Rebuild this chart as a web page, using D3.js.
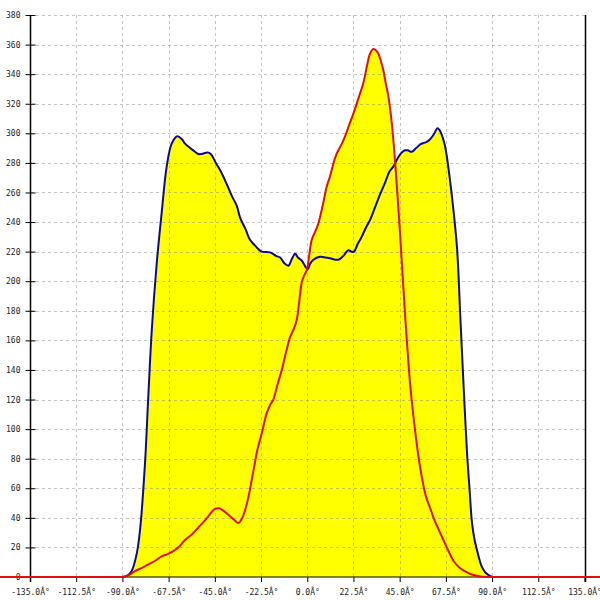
<!DOCTYPE html>
<html>
<head>
<meta charset="utf-8">
<script src="https://cdn.jsdelivr.net/npm/d3@7"></script>
<style>
  html, body { margin: 0; padding: 0; background: #fff; }
  svg { display: block; }
  text { font-family: "DejaVu Sans Mono", monospace; font-size: 8px; fill: #222; }
</style>
</head>
<body>
<svg id="chart" width="600" height="600"></svg>
<script>
// ---- data ----
const xTicks = [-135, -112.5, -90, -67.5, -45, -22.5, 0, 22.5, 45, 67.5, 90, 112.5, 135];
const yTicks = [0, 20, 40, 60, 80, 100, 120, 140, 160, 180, 200, 220, 240, 260, 280, 300, 320, 340, 360, 380];

const blueAngles = [-90, -87.5, -85.5, -83, -81.4, -79, -77.4, -75.7, -73.3, -70.9, -68.4, -66, -63.3, -61, -59.5, -56, -53, -51.4, -48.5, -47, -44.5, -42, -39, -36.5, -34.3, -32.7, -30, -27.9, -26, -24, -22.2, -18.1, -15, -13.2, -11, -9.2, -7.5, -5.9, -4.5, -2.7, -0.5, 0.2, 1.5, 3, 6.2, 9, 11.1, 15.1, 17.5, 20, 21.5, 22.8, 24.5, 26.5, 28.5, 30.6, 33, 35.4, 38, 40, 41.9, 44, 46, 47.6, 49, 50.8, 53, 55, 56.6, 58, 59.8, 61.5, 63.4, 64.5, 65.5, 67, 68, 69, 70.4, 72.9, 74.5, 76.1, 77.8, 79, 80.2, 81.5, 82.6, 84, 85, 86.5, 88.3, 90];
const blueValues = [0, 1, 4, 16, 32, 77, 122, 167, 212, 246, 278, 293, 298, 296, 293, 289, 286, 286, 287, 286, 280, 274, 265, 257, 251, 243, 235, 228, 225, 222, 220, 219.5, 217, 216, 212, 210.5, 215, 218.5, 216, 214, 209, 208, 212, 214.5, 216.5, 216, 215.5, 214.5, 217, 221, 220, 220, 225, 230, 236, 241.5, 250, 258.5, 267, 274, 277.5, 283, 287, 288.5, 288.5, 287.5, 290, 292.5, 293.5, 294, 296, 299, 303.5, 302, 299, 292, 284, 274, 258, 223, 177, 130, 84, 60, 37, 25, 18.5, 11, 7, 3.5, 1.3, 0];

const redAngles = [-180, -150, -120, -100, -92, -90, -88, -86, -83.9, -80, -77.4, -74, -70.9, -68, -65.2, -62, -59.5, -56, -53, -50, -48.2, -46.5, -44.9, -43, -41.6, -39.5, -37.6, -35.5, -33.5, -32, -30.3, -28.5, -27, -25.5, -24.6, -22, -19.7, -17.8, -16.5, -14.5, -12.4, -10.5, -8.4, -6.5, -5.1, -4, -2.7, -1.5, -0.2, 1, 2.2, 4, 5.4, 7.5, 9.5, 11.1, 12.8, 14.4, 16.5, 18.4, 20.5, 22.5, 25, 27.3, 29, 30.6, 32.2, 33.5, 34.6, 36, 37, 38.2, 39.5, 40.5, 41.9, 42.8, 43.6, 45.2, 47.6, 50, 51.6, 53.9, 56, 57.9, 60, 61.5, 64, 66.3, 68.8, 71.2, 74, 77.8, 81, 84.3, 88, 90, 92, 100, 120, 150, 180];
const redValues = [0, 0, 0, 0, 0, 0, 0.8, 2, 4, 6.5, 8.5, 11, 14, 15.5, 17.5, 21, 25, 29, 33.5, 38, 41, 44, 46, 46.5, 45.5, 43.5, 41, 38.5, 36.5, 39, 45, 55, 66, 77, 84, 98, 111, 117, 120, 130, 140, 151, 162, 168, 174, 185, 199, 204, 207.5, 218, 228, 234, 239, 251, 264, 271, 280, 286.5, 292, 298, 306, 313.5, 324, 334, 345, 354, 357, 356, 354, 348, 343, 334, 325, 315, 296, 280, 265, 232, 178, 132, 110, 84, 66, 54, 46, 40, 32, 25, 17.5, 11, 6.5, 3.2, 1.3, 0.3, 0.05, 0, 0, 0, 0, 0, 0];

// ---- drawing ----
const svg = d3.select("#chart");
const x = d3.scaleLinear().domain([-135, 135]).range([30, 584.5]);
const y = d3.scaleLinear().domain([0, 380]).range([577, 15]);

const blue = blueAngles.map((a, i) => ({a, v: blueValues[i]}));
const red = redAngles.map((a, i) => ({a, v: redValues[i]}));

const curve = d3.curveCatmullRom.alpha(0.5);
const area = d3.area().x(d => x(d.a)).y0(y(0)).y1(d => y(d.v)).curve(curve);
const line = d3.line().x(d => x(d.a)).y(d => y(d.v)).curve(curve);

// fills
svg.append("path").datum(blue).attr("d", area).attr("fill", "#ffff00");
svg.append("path").datum(red).attr("d", area).attr("fill", "#ffff00");

// grid
const grid = svg.append("g").attr("stroke", "#8a8a8a").attr("stroke-opacity", 0.5)
  .attr("stroke-dasharray", "3,3").attr("shape-rendering", "crispEdges");
grid.selectAll("line.h").data(yTicks.filter(t => t > 0)).join("line")
  .attr("x1", x(-135)).attr("x2", x(135))
  .attr("y1", d => Math.round(y(d)) + 0.5).attr("y2", d => Math.round(y(d)) + 0.5);
grid.selectAll("line.v").data(xTicks).join("line")
  .attr("y1", y(380)).attr("y2", y(0))
  .attr("x1", d => Math.round(x(d)) + 0.5).attr("x2", d => Math.round(x(d)) + 0.5);

// axes
const yAxis = d3.axisLeft(y).tickValues(yTicks).tickSize(5).tickPadding(5).tickFormat(d3.format("d"));
const gy = svg.append("g").attr("transform", `translate(${Math.round(x(-135)) + 0.5},0)`).call(yAxis);
gy.select(".domain").remove();
gy.selectAll(".tick line").attr("x1", -5).attr("x2", 5).attr("stroke", "#000");
gy.selectAll(".tick text").attr("fill", "#222").style("font-size", "8px").style("font-family", "DejaVu Sans Mono, monospace");

const fmtX = d => d.toFixed(1) + "Â°";
const xAxis = d3.axisBottom(x).tickValues(xTicks).tickSize(5).tickPadding(7).tickFormat(fmtX);
const gx = svg.append("g").attr("transform", `translate(0,${y(0)})`).call(xAxis);
gx.select(".domain").remove();
gx.selectAll(".tick line").attr("stroke", "#000");
gx.selectAll(".tick text").attr("fill", "#222").style("font-size", "8px").style("font-family", "DejaVu Sans Mono, monospace");

// axis lines
svg.append("line").attr("x1", Math.round(x(-135)) + 0.5).attr("x2", Math.round(x(-135)) + 0.5)
  .attr("y1", y(380)).attr("y2", y(0) + 5).attr("stroke", "#000").attr("stroke-width", 1.5);
svg.append("line").attr("x1", Math.round(x(135)) + 0.5).attr("x2", Math.round(x(135)) + 0.5)
  .attr("y1", y(380)).attr("y2", y(0) + 5).attr("stroke", "#000").attr("stroke-width", 1.5);
svg.append("line").attr("x1", x(-135)).attr("x2", x(135))
  .attr("y1", y(0)).attr("y2", y(0)).attr("stroke", "#000");

// series lines
svg.append("path").datum(blue).attr("d", line).attr("fill", "none")
  .attr("stroke", "#0a0a9a").attr("stroke-width", 2).attr("stroke-linejoin", "round");
svg.append("path").datum(red).attr("d", line).attr("fill", "none")
  .attr("stroke", "#e01010").attr("stroke-width", 2).attr("stroke-linejoin", "round");
</script>
</body>
</html>
